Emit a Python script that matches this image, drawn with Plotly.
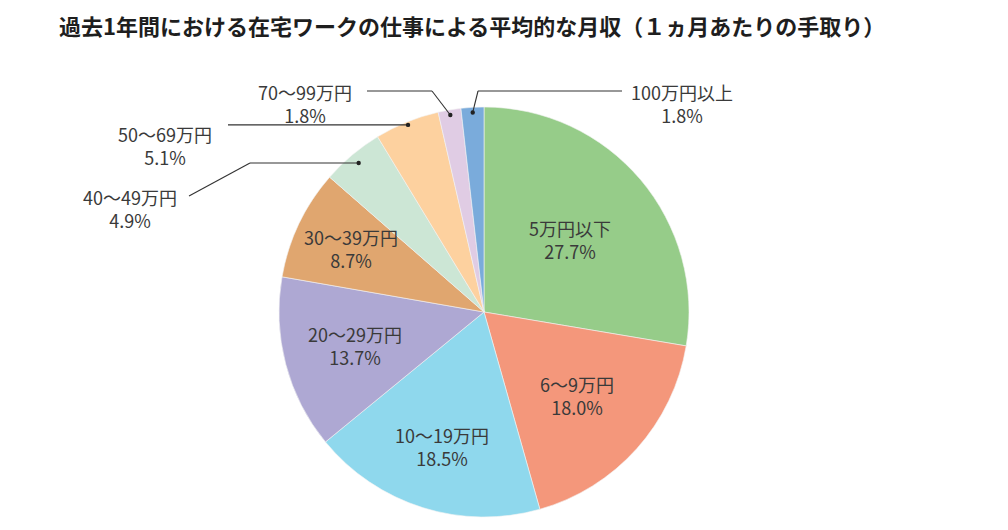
import math
import plotly.graph_objects as go

# ---- data ----
categories = ["5万円以下", "6〜9万円", "10〜19万円", "20〜29万円", "30〜39万円",
              "40〜49万円", "50〜69万円", "70〜99万円", "100万円以上"]
values = [27.7, 18.0, 18.5, 13.7, 8.7, 4.9, 5.1, 1.8, 1.8]
colors = ["#96cc89", "#f4977b", "#8fd8ed", "#aea8d3", "#e0a66f",
          "#cce6d5", "#fdd19f", "#e0cce4", "#7aabdb"]
title_text = "過去1年間における在宅ワークの仕事による平均的な月収（１ヵ月あたりの手取り）"

# ---- layout geometry (pixels) ----
W, H = 1008, 530
cx, cy, R = 484, 312, 205
FONT = "Noto Sans CJK JP"
TXT = "#3a3a3a"

def px(x):
    return x / W

def py(y):
    return 1 - y / H

fig = go.Figure(go.Pie(
    labels=categories, values=values, sort=False, direction="clockwise",
    rotation=0, marker=dict(colors=colors, line=dict(color="#f4f4f4", width=0.6)),
    textinfo="none", hoverinfo="label+percent", showlegend=False,
    domain=dict(x=[px(cx - R), px(cx + R)], y=[py(cy + R), py(cy - R)]),
))

total = sum(values)
mids = []
cum = 0
for v in values:
    mids.append(2 * math.pi * (cum + v / 2) / total)
    cum += v

def polar(theta, rr):
    return cx + rr * math.sin(theta), cy - rr * math.cos(theta)

annotations = []
shapes = []

# inside labels (first five slices), radius fractions
inside_r = [0.55, 0.61, 0.69, 0.65, 0.72]
for i, rf in enumerate(inside_r):
    x, y = polar(mids[i], rf * R)
    annotations.append(dict(
        x=px(x), y=py(y), xref="paper", yref="paper", showarrow=False,
        text=f"{categories[i]}<br>{values[i]:.1f}%", align="center",
        xanchor="center", yanchor="middle",
        font=dict(family=FONT, size=18, color=TXT)))

# outside labels: (index, label centre px, leader path before the dot)
outside = [
    (5, (130, 208), [(189, 196), (250, None)]),
    (6, (165, 145), [(228, None)]),
    (7, (305, 104), [(367, 91), (432, 91)]),
    (8, (682, 103), [(622, 91), (478, 91)]),
]
dot_r = {5: 0.95, 6: 0.985, 7: 0.975, 8: 0.975}
for i, (lx, ly), path in outside:
    annotations.append(dict(
        x=px(lx), y=py(ly), xref="paper", yref="paper", showarrow=False,
        text=f"{categories[i]}<br>{values[i]:.1f}%", align="center",
        xanchor="center", yanchor="middle",
        font=dict(family=FONT, size=18, color=TXT)))
    dx, dy = polar(mids[i], dot_r[i] * R)
    pts = [(x, dy if y is None else y) for x, y in path] + [(dx, dy)]
    for (x0, y0), (x1, y1) in zip(pts[:-1], pts[1:]):
        shapes.append(dict(type="line", xref="paper", yref="paper",
                           x0=px(x0), y0=py(y0), x1=px(x1), y1=py(y1),
                           line=dict(color="#333333", width=1.1)))
    rd = 2.2
    shapes.append(dict(type="circle", xref="paper", yref="paper",
                       x0=px(dx - rd), x1=px(dx + rd), y0=py(dy + rd), y1=py(dy - rd),
                       fillcolor="#222222", line=dict(width=0)))

annotations.append(dict(
    x=px(57), y=py(25), xref="paper", yref="paper", showarrow=False,
    text=f"<b>{title_text}</b>", xanchor="left", yanchor="middle",
    font=dict(family=FONT, size=22, color="#1e1e1e")))

fig.update_layout(
    width=W, height=H, margin=dict(l=0, r=0, t=0, b=0),
    paper_bgcolor="white", plot_bgcolor="white",
    annotations=annotations, shapes=shapes,
)

fig.write_html("out.html")
